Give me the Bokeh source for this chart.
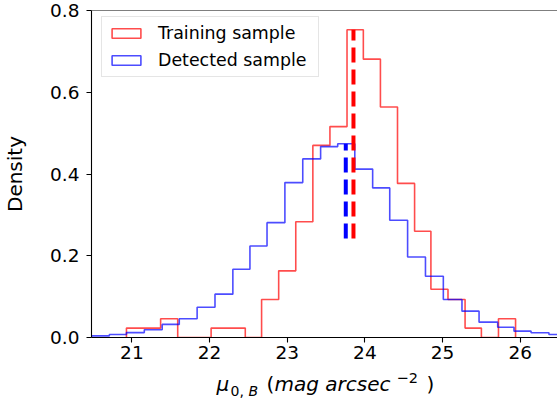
import numpy as np
from bokeh.plotting import figure
from bokeh.layouts import column
from bokeh.models import (Legend, LegendItem, Label, Span, FixedTicker,
                          NumeralTickFormatter, Range1d, ColumnDataSource)
from bokeh.embed import file_html
from bokeh.resources import INLINE

# ---------------- data ----------------
red_edges = [20.93, 21.15, 21.37, 21.59, 21.80, 22.02, 22.24, 22.46, 22.67, 22.89,
             23.11, 23.33, 23.55, 23.77, 23.98, 24.20, 24.42, 24.64, 24.85, 25.07,
             25.29, 25.50, 25.72, 25.94]
red_density = [0.023, 0.023, 0.046, 0.0, 0.0, 0.023, 0.023, 0.0, 0.093, 0.163,
               0.283, 0.470, 0.516, 0.753, 0.681, 0.564, 0.377, 0.260, 0.118, 0.093,
               0.023, 0.0, 0.046]

blue_edges = [20.48, 20.71, 20.93, 21.16, 21.39, 21.61, 21.84, 22.07, 22.30, 22.52,
              22.74, 22.97, 23.20, 23.43, 23.65, 23.87, 24.10, 24.32, 24.55, 24.78,
              25.01, 25.25, 25.47, 25.71, 25.92, 26.14, 26.37, 26.60]
blue_density = [0.004, 0.0074, 0.012, 0.019, 0.032, 0.046, 0.074, 0.106, 0.167, 0.224,
                0.281, 0.379, 0.437, 0.467, 0.474, 0.412, 0.366, 0.287, 0.197, 0.150,
                0.093, 0.0645, 0.0376, 0.025, 0.0155, 0.0115, 0.0074]

red_mean = 23.853
blue_mean = 23.754
dash_bottom = 0.242
red_dash_top = 0.753
blue_dash_top = 0.474

series_labels = ["Training sample", "Detected sample"]
x_ticks = [21, 22, 23, 24, 25, 26]
y_ticks = [0.0, 0.2, 0.4, 0.6, 0.8]
x_limits = (20.48, 26.48)
y_limits = (0.0, 0.8)


def step_outline(edges, heights):
    xs = [edges[0]]
    ys = [0.0]
    for i, h in enumerate(heights):
        xs += [edges[i], edges[i + 1]]
        ys += [h, h]
    xs.append(edges[-1])
    ys.append(0.0)
    return xs, ys


FONT = "DejaVu Sans"
W = 557

p = figure(width=W, height=370,
           x_range=Range1d(*x_limits), y_range=Range1d(*y_limits),
           output_backend="svg", toolbar_location=None,
           min_border_left=91, min_border_right=0,
           min_border_top=10, min_border_bottom=33)
p.outline_line_color = None
p.xgrid.grid_line_color = None
p.ygrid.grid_line_color = None
p.background_fill_color = "white"
p.border_fill_color = "white"

for ax in (p.xaxis[0], p.yaxis[0]):
    ax.major_tick_out = 5
    ax.major_tick_in = 0
    ax.minor_tick_out = 0
    ax.minor_tick_in = 0
    ax.axis_line_color = "black"
    ax.axis_line_width = 1.1
    ax.major_tick_line_color = "black"
    ax.major_tick_line_width = 1.1
    ax.major_label_text_font = FONT
    ax.major_label_text_font_size = "18.5px"
    ax.major_label_text_color = "black"

p.xaxis.ticker = FixedTicker(ticks=x_ticks)
p.yaxis.ticker = FixedTicker(ticks=y_ticks)
p.yaxis.formatter = NumeralTickFormatter(format="0.0")
p.xaxis.major_label_standoff = 3
p.yaxis.major_label_standoff = 7

p.yaxis.axis_label = "Density"
p.yaxis.axis_label_text_font = FONT
p.yaxis.axis_label_text_font_size = "20px"
p.yaxis.axis_label_text_font_style = "normal"
p.yaxis.axis_label_text_color = "black"
p.yaxis.axis_label_standoff = 20

# top spine
p.add_layout(Span(location=y_limits[1], dimension="width",
                  line_color="black", line_width=1.1))

# histograms (step outlines)
rx, ry = step_outline(red_edges, red_density)
bx, by = step_outline(blue_edges, blue_density)
p.line(rx, ry, line_color="red", line_alpha=0.7, line_width=1.6)
p.line(bx, by, line_color="blue", line_alpha=0.7, line_width=1.6)

# mean lines
p.segment(x0=[red_mean], y0=[dash_bottom], x1=[red_mean], y1=[red_dash_top],
          line_color="red", line_width=4, line_dash="15 7")
p.segment(x0=[blue_mean], y0=[dash_bottom], x1=[blue_mean], y1=[blue_dash_top],
          line_color="blue", line_width=4, line_dash="15 7")

# legend proxies: same bins drawn as outlined quads on an off-screen range,
# only used so that the legend shows rectangle patches like matplotlib's
p.extra_y_ranges = {"legend_proxy": Range1d(start=10, end=11)}
src_red = ColumnDataSource(dict(left=red_edges[:-1], right=red_edges[1:],
                                top=red_density, bottom=[0.0] * len(red_density)))
src_blue = ColumnDataSource(dict(left=blue_edges[:-1], right=blue_edges[1:],
                                 top=blue_density, bottom=[0.0] * len(blue_density)))
leg_red = p.quad(left="left", right="right", top="top", bottom="bottom",
                 source=src_red, y_range_name="legend_proxy", fill_color=None,
                 line_color="red", line_alpha=0.7, line_width=1.6)
leg_blue = p.quad(left="left", right="right", top="top", bottom="bottom",
                  source=src_blue, y_range_name="legend_proxy", fill_color=None,
                  line_color="blue", line_alpha=0.7, line_width=1.6)

legend = Legend(items=[LegendItem(label=series_labels[0], renderers=[leg_red]),
                       LegendItem(label=series_labels[1], renderers=[leg_blue])],
                location=(10, 260), orientation="vertical",
                glyph_width=36, glyph_height=12, label_height=20, label_width=154,
                label_standoff=14, spacing=7, padding=6, margin=0,
                border_line_color="#cccccc", border_line_width=1,
                background_fill_color="white", background_fill_alpha=0.8,
                label_text_font=FONT, label_text_font_size="17.4px",
                label_text_color="black")
p.add_layout(legend)

# x-axis label (mathtext-like), drawn in a strip under the chart
# (the strip's frame is aligned with the main frame by the column layout)
p2 = figure(width=W, height=34, x_range=Range1d(0, W), y_range=Range1d(0, 34),
            x_axis_type=None, y_axis_type=None,
            output_backend="svg", toolbar_location=None, min_border=0)
p2.xgrid.grid_line_color = None
p2.ygrid.grid_line_color = None
p2.outline_line_color = None
p2.background_fill_color = "white"
p2.border_fill_color = "white"

pieces = [
    ("μ", 125, 21, "20px", "italic"),
    ("0,", 139, 14, "14px", "normal"),
    ("B", 157, 14, "14px", "italic"),
    ("(", 175, 21, "20px", "normal"),
    ("mag arcsec", 183, 21, "20px", "italic"),
    ("−2", 305, 27, "14.5px", "normal"),
    (")", 335, 21, "20px", "normal"),
]
for txt, sx, sy, fs, style in pieces:
    p2.add_layout(Label(x=sx, y=sy, x_units="screen", y_units="screen", text=txt,
                        text_font=FONT, text_font_size=fs, text_font_style=style,
                        text_color="black", text_baseline="alphabetic",
                        text_align="left"))

layout = column(p, p2, spacing=0)
open("out.html", "w").write(file_html(layout, INLINE))
